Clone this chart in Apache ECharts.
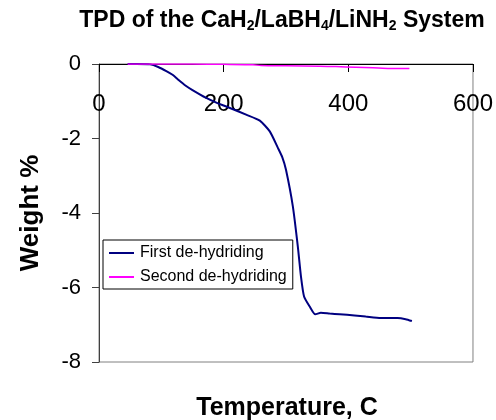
<!DOCTYPE html>
<html>
<head>
<meta charset="utf-8">
<script src="https://cdn.jsdelivr.net/npm/echarts@6/dist/echarts.min.js"></script>
<style>html,body{margin:0;padding:0;background:#fff}#c{width:496px;height:420px}</style>
</head>
<body>
<div id="c"></div>
<script>
var seriesNames = ['First de-hydriding', 'Second de-hydriding'];
var firstTemp = [46, 60, 82, 95, 108, 118, 127, 138, 150, 172, 190, 210, 236, 258, 274, 287, 294, 300, 311, 319, 324, 329, 338, 347, 356, 370, 386, 410, 428, 452, 479, 492, 502];
var firstWeight = [0, 0, -0.01, -0.08, -0.19, -0.29, -0.42, -0.57, -0.70, -0.91, -1.05, -1.18, -1.36, -1.52, -1.81, -2.25, -2.5, -2.84, -3.82, -4.9, -5.7, -6.24, -6.51, -6.72, -6.68, -6.70, -6.72, -6.75, -6.78, -6.82, -6.82, -6.85, -6.9];
var secondTemp = [46, 100, 150, 200, 247, 260, 300, 354, 380, 412, 440, 466, 498];
var secondWeight = [0, 0, 0, -0.01, -0.02, -0.04, -0.05, -0.06, -0.07, -0.085, -0.1, -0.12, -0.12];
var xTicks = {min: 0, max: 600, interval: 200};
var yTicks = {min: -8, max: 0, interval: 2};

function pairs(xs, ys) { return xs.map(function (x, i) { return [x, ys[i]]; }); }
var FF = 'Liberation Sans, Arial, sans-serif';
var chart = echarts.init(document.getElementById('c'), null, {renderer: 'canvas'});
chart.setOption({
  animation: false,
  backgroundColor: '#fff',
  title: [{
    text: 'TPD of the CaH{s|2}/LaBH{s|4}/LiNH{s|2} System',
    left: 277, top: 4, textAlign: 'center',
    textStyle: {fontFamily: FF, fontSize: 23, fontWeight: 'bold', color: '#000',
      rich: {s: {fontFamily: FF, fontSize: 14, fontWeight: 'bold', color: '#000', verticalAlign: 'bottom', padding: [10, 0, 0, 0]}}}
  }, {
    text: 'Temperature, C',
    left: 282, top: 391, textAlign: 'center',
    textStyle: {fontFamily: FF, fontSize: 25, fontWeight: 'bold', color: '#000'}
  }],
  grid: {left: 99, top: 64, width: 375, height: 298, show: true, borderColor: '#808080', borderWidth: 1, backgroundColor: '#fff'},
  legend: {
    orient: 'vertical', left: 103, top: 240, width: 189,
    data: seriesNames, icon: 'rect',
    borderColor: '#000', borderWidth: 1, padding: [5, 6, 4, 6], itemGap: 8,
    itemWidth: 25, itemHeight: 2,
    textStyle: {fontFamily: FF, fontSize: 16, color: '#000', padding: [0, 0, 0, 1]},
    backgroundColor: '#fff'
  },
  xAxis: {
    type: 'value', position: 'top', min: xTicks.min, max: xTicks.max, interval: xTicks.interval,
    axisLine: {onZero: false, lineStyle: {color: '#000', width: 1}},
    axisTick: {inside: true, length: 8, lineStyle: {color: '#000'}},
    axisLabel: {inside: true, margin: 28, fontFamily: FF, fontSize: 24, color: '#000'},
    splitLine: {show: false}
  },
  yAxis: {
    type: 'value', min: yTicks.min, max: yTicks.max, interval: yTicks.interval,
    name: 'Weight %', nameLocation: 'middle', nameGap: 55, nameRotate: 90,
    nameTextStyle: {fontFamily: FF, fontSize: 26, fontWeight: 'bold', color: '#000'},
    axisLine: {show: true, onZero: false, lineStyle: {color: '#404040', width: 1}},
    axisTick: {show: true, inside: false, length: 7, lineStyle: {color: '#404040'}},
    axisLabel: {margin: 18, fontFamily: FF, fontSize: 22, color: '#000'},
    splitLine: {show: false}
  },
  series: [{
    name: seriesNames[0], type: 'line', data: pairs(firstTemp, firstWeight),
    showSymbol: false, symbol: 'none', smooth: 0.2,
    lineStyle: {color: '#000080', width: 2}, itemStyle: {color: '#000080'}
  }, {
    name: seriesNames[1], type: 'line', data: pairs(secondTemp, secondWeight),
    showSymbol: false, symbol: 'none', smooth: 0.2,
    lineStyle: {color: '#FF00FF', width: 1.5}, itemStyle: {color: '#FF00FF'}
  }]
});
</script>
</body>
</html>
